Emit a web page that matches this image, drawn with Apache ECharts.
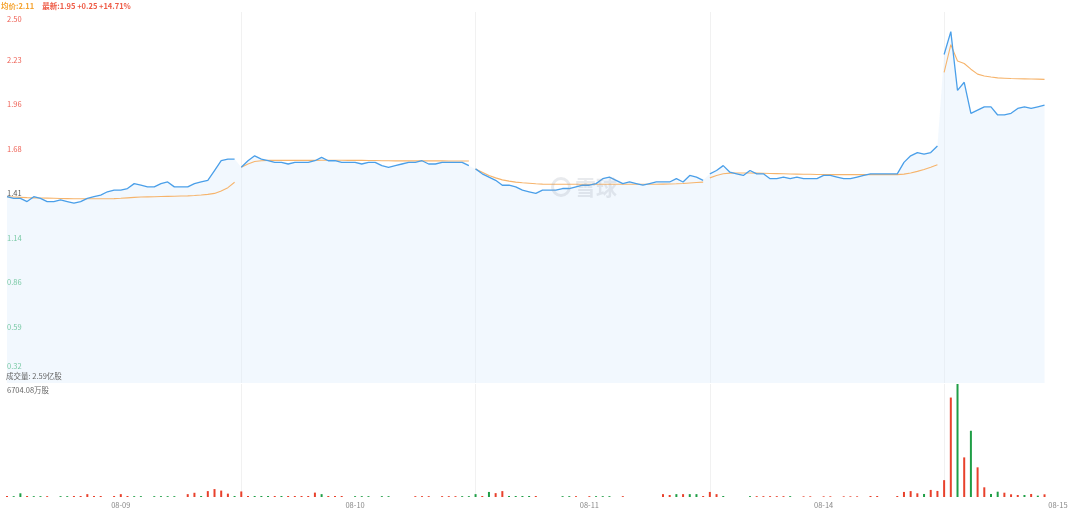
<!DOCTYPE html>
<html><head><meta charset="utf-8">
<script src="https://cdn.jsdelivr.net/npm/echarts@6/dist/echarts.min.js"></script>
<style>html,body{margin:0;padding:0;background:#fff}#c{width:1080px;height:516px}</style>
</head><body><div id="c"></div>
<script>
// ---- data ----
const dates = ['08-09', '08-10', '08-11', '08-14', '08-15'];
const slotsPerDay = 35;
const priceTicks = ['0.32', '0.59', '0.86', '1.14', '1.41', '1.68', '1.96', '2.23', '2.50'];
const preCloseTickIndex = 4;

const price_0809 = [1.39,1.38,1.38,1.36,1.39,1.38,1.36,1.36,1.37,1.36,1.35,1.36,1.38,1.39,1.40,1.42,1.43,1.43,1.44,1.47,1.46,1.45,1.45,1.47,1.48,1.45,1.45,1.45,1.47,1.48,1.49,1.55,1.61,1.62,1.62];
const price_0810 = [1.57,1.61,1.64,1.62,1.61,1.60,1.60,1.59,1.60,1.60,1.60,1.61,1.63,1.61,1.61,1.60,1.60,1.60,1.59,1.60,1.60,1.58,1.57,1.58,1.59,1.60,1.60,1.61,1.59,1.59,1.60,1.60,1.60,1.60,1.58];
const price_0811 = [1.56,1.53,1.51,1.49,1.46,1.46,1.45,1.43,1.42,1.41,1.43,1.43,1.43,1.44,1.44,1.45,1.46,1.46,1.47,1.50,1.51,1.49,1.47,1.48,1.47,1.46,1.47,1.48,1.48,1.48,1.50,1.48,1.52,1.51,1.49];
const price_0814 = [1.53,1.55,1.58,1.54,1.53,1.52,1.55,1.53,1.53,1.50,1.50,1.51,1.50,1.51,1.50,1.50,1.50,1.52,1.52,1.51,1.50,1.50,1.51,1.52,1.53,1.53,1.53,1.53,1.53,1.60,1.64,1.66,1.65,1.66,1.70];
const price_0815 = [2.26,2.40,2.04,2.09,1.90,1.92,1.94,1.94,1.89,1.89,1.90,1.93,1.94,1.93,1.94,1.95];

const avg_0809 = [1.390,1.388,1.386,1.384,1.383,1.382,1.381,1.380,1.379,1.378,1.377,1.377,1.377,1.377,1.377,1.377,1.378,1.380,1.383,1.386,1.388,1.389,1.390,1.391,1.392,1.393,1.394,1.395,1.397,1.400,1.404,1.410,1.425,1.445,1.478];
const avg_0810 = [1.570,1.590,1.605,1.610,1.612,1.612,1.612,1.612,1.612,1.612,1.612,1.612,1.613,1.613,1.613,1.613,1.612,1.612,1.612,1.611,1.611,1.610,1.610,1.609,1.609,1.609,1.609,1.609,1.609,1.609,1.609,1.608,1.608,1.608,1.608];
const avg_0811 = [1.560,1.540,1.520,1.505,1.493,1.485,1.479,1.475,1.472,1.469,1.467,1.466,1.466,1.466,1.466,1.466,1.466,1.466,1.466,1.466,1.466,1.466,1.466,1.466,1.466,1.466,1.466,1.466,1.467,1.468,1.469,1.471,1.474,1.477,1.479];
const avg_0814 = [1.505,1.520,1.530,1.534,1.535,1.535,1.535,1.534,1.533,1.532,1.531,1.530,1.529,1.528,1.527,1.527,1.526,1.526,1.525,1.525,1.525,1.525,1.525,1.525,1.525,1.525,1.525,1.525,1.525,1.528,1.535,1.545,1.556,1.570,1.585];
const avg_0815 = [2.150,2.320,2.220,2.205,2.170,2.140,2.128,2.122,2.117,2.115,2.113,2.112,2.111,2.110,2.109,2.108];

// volumes in 万股, direction r = up (red), g = down (green)
const vol_0809 = [60,50,220,60,50,50,50,0,50,50,60,60,170,60,60,0,60,170,60,50,50,0,50,50,50,50,0,170,250,60,350,470,380,200,60];
const vol_0810 = [330,60,60,60,60,60,60,60,60,60,60,260,170,60,60,60,0,50,50,50,0,50,50,0,0,0,50,50,50,0,50,50,50,50,50];
const vol_0811 = [170,60,300,230,350,60,60,60,60,60,0,0,0,50,50,50,0,50,50,50,50,0,50,0,0,0,0,0,170,120,170,170,170,170,60];
const vol_0814 = [300,170,60,0,0,0,50,50,50,50,50,50,50,0,40,40,0,40,40,0,40,40,40,0,60,60,0,0,60,300,350,220,180,420,360];
const vol_0815 = [1000,5900,6704.08,2350,3930,1760,575,180,315,255,160,120,120,180,80,160];
const dir_0809 = ['r','g','g','r','g','g','r','g','g','g','r','r','r','r','r','r','r','r','r','g','g','g','g','g','g','g','g','r','r','g','r','r','r','r','g'];
const dir_0810 = ['r','r','g','g','g','r','g','r','r','r','r','r','g','r','r','r','g','g','g','g','g','g','g','g','g','g','r','r','r','r','r','r','r','g','g'];
const dir_0811 = ['g','r','g','r','r','g','g','g','g','r','r','r','r','g','g','r','r','r','g','g','g','r','r','r','r','r','r','r','r','r','g','r','g','g','r'];
const dir_0814 = ['r','r','g','g','g','g','g','r','r','r','r','r','g','g','r','r','r','r','r','r','r','r','r','r','r','r','r','r','r','r','r','r','g','r','r'];
const dir_0815 = ['r','r','g','r','g','r','r','g','g','r','r','r','g','r','g','r'];

const volMax = 6704.08;
const header = { avg: '2.11', last: '1.95', change: '+0.25', pct: '+14.71%', volTotal: '2.59亿股' };

// ---- build ----
const priceDays = [price_0809, price_0810, price_0811, price_0814, price_0815];
const avgDays = [avg_0809, avg_0810, avg_0811, avg_0814, avg_0815];
const volDays = [vol_0809, vol_0810, vol_0811, vol_0814, vol_0815];
const dirDays = [dir_0809, dir_0810, dir_0811, dir_0814, dir_0815];

const categories = [];
dates.forEach(d => { for (let s = 0; s < slotsPerDay; s++) categories.push(d + ' ' + s); });
function pad(day, arr) {
  const out = new Array(categories.length).fill(null);
  arr.forEach((v, k) => { out[day * slotsPerDay + k] = v; });
  return out;
}
const allPrices = new Array(categories.length).fill(null);
priceDays.forEach((arr, d) => arr.forEach((v, k) => { allPrices[d * slotsPerDay + k] = v; }));

const RED = '#e8412c', GREEN = '#1f9e46';
const volData = new Array(categories.length).fill(null);
volDays.forEach((arr, d) => arr.forEach((v, k) => {
  volData[d * slotsPerDay + k] = { value: v, itemStyle: { color: dirDays[d][k] === 'r' ? RED : GREEN } };
}));

const FONT = 'Noto Sans CJK SC, sans-serif';
const series = [{
  type: 'line', xAxisIndex: 0, yAxisIndex: 0, data: allPrices,
  showSymbol: false, symbol: 'none', z: 2, silent: true,
  lineStyle: { width: 0, opacity: 0 },
  areaStyle: { color: 'rgba(222,236,252,0.55)', origin: 'start' }
}];
priceDays.forEach((arr, d) => {
  series.push({
    type: 'line', xAxisIndex: 0, yAxisIndex: 0, data: pad(d, arr),
    showSymbol: false, symbol: 'none', connectNulls: false, z: 4,
    lineStyle: { color: '#4a9fe9', width: 1.3 }
  });
  series.push({
    type: 'line', xAxisIndex: 0, yAxisIndex: 0, data: pad(d, avgDays[d]),
    showSymbol: false, symbol: 'none', connectNulls: false, z: 3,
    lineStyle: { color: '#f6b46c', width: 1.1 }
  });
});
series.push({
  type: 'bar', xAxisIndex: 1, yAxisIndex: 1, data: volData, barWidth: 2
});

const isBoundary = (i) => i > 0 && i % slotsPerDay === 0;
const splitStyle = { show: true, interval: (i) => isBoundary(i), lineStyle: { color: '#f1f1f1', width: 1 } };

const chart = echarts.init(document.getElementById('c'), null, { renderer: 'canvas' });
chart.setOption({
  animation: false,
  backgroundColor: '#fff',
  textStyle: { fontFamily: FONT },
  title: [
    {
      left: 1, top: -3, padding: 0,
      text: '{a|均价:' + header.avg + '}  {b|最新:' + header.last + ' ' + header.change + ' ' + header.pct + '}',
      textStyle: { rich: {
        a: { color: '#f5a431', fontSize: 7.5, fontFamily: FONT },
        b: { color: '#ee5a45', fontSize: 7.5, fontFamily: FONT }
      } }
    },
    {
      left: 6, top: 372, padding: 0,
      text: '成交量: ' + header.volTotal,
      textStyle: { color: '#666', fontSize: 7.5, fontWeight: 'normal', fontFamily: FONT }
    }
  ],
  graphic: [
    { type: 'circle', shape: { cx: 561, cy: 187, r: 8.5 }, style: { fill: 'none', stroke: 'rgba(150,160,175,0.22)', lineWidth: 3 }, z: 10 },
    { type: 'text', x: 575, y: 187, style: { text: '雪球', fill: 'rgba(150,160,175,0.22)', font: 'bold 21px "Noto Sans CJK SC"', verticalAlign: 'middle' }, z: 10 }
  ],
  grid: [
    { left: 7, right: 2, top: 12, bottom: 133 },
    { left: 7, right: 2, top: 384, bottom: 19 },
    { left: 7, right: 2, top: 15.3, bottom: 144.5 }
  ],
  xAxis: [
    { gridIndex: 0, type: 'category', data: categories, boundaryGap: false, max: 160,
      axisLine: { show: false }, axisTick: { show: false }, axisLabel: { show: false }, splitLine: splitStyle },
    { gridIndex: 1, type: 'category', data: categories, boundaryGap: false, max: 160,
      axisLine: { show: false }, axisTick: { show: false }, splitLine: splitStyle,
      axisLabel: { interval: (i) => i % slotsPerDay === 17, formatter: (v) => v.split(' ')[0],
        color: '#888', fontSize: 7.5, margin: 4, fontFamily: FONT } },
    { gridIndex: 2, type: 'value', show: false }
  ],
  yAxis: [
    { gridIndex: 0, type: 'value', min: 0.25, max: 2.52, show: false },
    { gridIndex: 1, type: 'value', min: 0, max: volMax, interval: volMax,
      axisLine: { show: false }, axisTick: { show: false }, splitLine: { show: false },
      axisLabel: { inside: true, margin: 0, verticalAlign: 'top', color: '#666', fontSize: 7.5, fontFamily: FONT,
        padding: [2, 0, 0, 0],
        formatter: (v) => v > 0 ? v.toFixed(2) + '万股' : '' } },
    { gridIndex: 2, type: 'category', data: priceTicks, boundaryGap: false,
      axisLine: { show: false }, axisTick: { show: false }, splitLine: { show: false },
      axisLabel: { inside: true, margin: 0, interval: 0, fontSize: 7.5, fontFamily: FONT,
        formatter: (v, i) => {
          const last = priceTicks.length - 1;
          let s = i > preCloseTickIndex ? 'r' : (i < preCloseTickIndex ? 'g' : 'n');
          if (i === last) s = 'rt';
          if (i === 0) s = 'gb';
          return '{' + s + '|' + v + '}';
        },
        rich: {
          r: { color: '#ee5e52', fontSize: 7.5, fontFamily: FONT },
          g: { color: '#36b26b', fontSize: 7.5, fontFamily: FONT },
          n: { color: '#555', fontSize: 7.5, fontFamily: FONT },
          rt: { color: '#ee5e52', fontSize: 7.5, fontFamily: FONT, padding: [8, 0, 0, 0] },
          gb: { color: '#36b26b', fontSize: 7.5, fontFamily: FONT, padding: [0, 0, 11, 0] }
        } } }
  ],
  series: series
});
</script></body></html>
